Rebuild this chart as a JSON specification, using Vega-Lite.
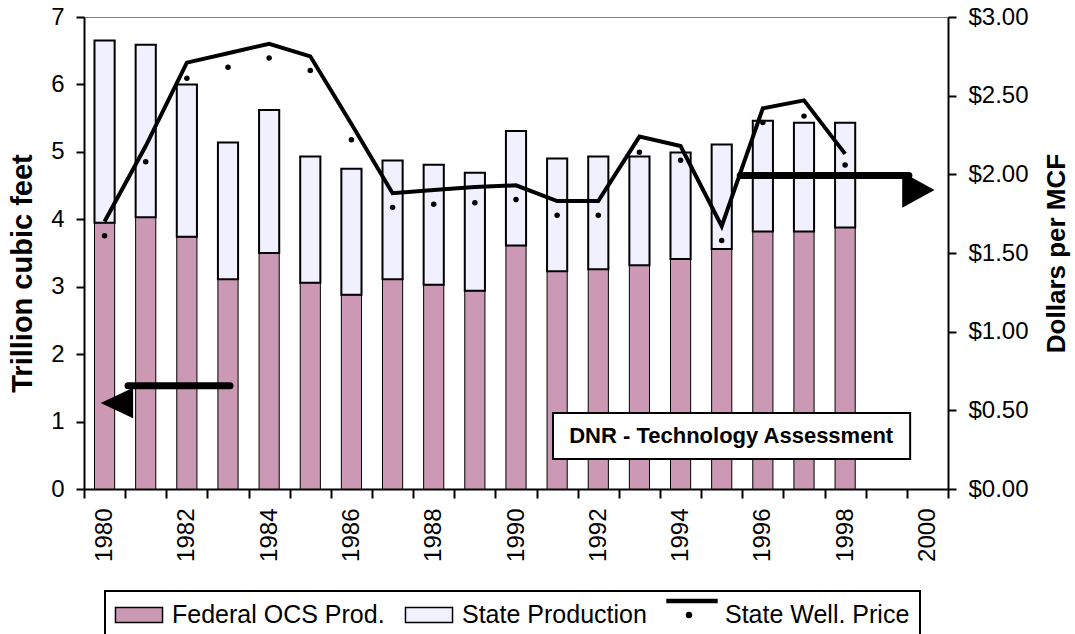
{
  "$schema": "https://vega.github.io/schema/vega-lite/v6.json",
  "autosize": {"type": "none"},
  "padding": {"left": 84, "top": 17, "right": 127, "bottom": 145},
  "width": 864,
  "height": 472,
  "background": "white",
  "config": {
    "font": "Liberation Sans",
    "view": {"stroke": "#808080", "strokeWidth": 1},
    "axis": {
      "domainColor": "black", "domainWidth": 2,
      "tickColor": "black", "tickWidth": 2, "tickSize": 8,
      "labelFont": "Liberation Sans", "labelFontSize": 24, "labelColor": "black",
      "titleFont": "Liberation Sans", "titleFontWeight": "bold", "titleColor": "black",
      "grid": false
    }
  },
  "datasets": {
    "prod": [
      {"year": 1980, "series": "Federal OCS Prod.", "value": 3.95}, {"year": 1980, "series": "State Production", "value": 2.70},
      {"year": 1981, "series": "Federal OCS Prod.", "value": 4.03}, {"year": 1981, "series": "State Production", "value": 2.56},
      {"year": 1982, "series": "Federal OCS Prod.", "value": 3.74}, {"year": 1982, "series": "State Production", "value": 2.26},
      {"year": 1983, "series": "Federal OCS Prod.", "value": 3.11}, {"year": 1983, "series": "State Production", "value": 2.03},
      {"year": 1984, "series": "Federal OCS Prod.", "value": 3.50}, {"year": 1984, "series": "State Production", "value": 2.12},
      {"year": 1985, "series": "Federal OCS Prod.", "value": 3.06}, {"year": 1985, "series": "State Production", "value": 1.87},
      {"year": 1986, "series": "Federal OCS Prod.", "value": 2.88}, {"year": 1986, "series": "State Production", "value": 1.87},
      {"year": 1987, "series": "Federal OCS Prod.", "value": 3.11}, {"year": 1987, "series": "State Production", "value": 1.76},
      {"year": 1988, "series": "Federal OCS Prod.", "value": 3.03}, {"year": 1988, "series": "State Production", "value": 1.78},
      {"year": 1989, "series": "Federal OCS Prod.", "value": 2.94}, {"year": 1989, "series": "State Production", "value": 1.75},
      {"year": 1990, "series": "Federal OCS Prod.", "value": 3.61}, {"year": 1990, "series": "State Production", "value": 1.70},
      {"year": 1991, "series": "Federal OCS Prod.", "value": 3.23}, {"year": 1991, "series": "State Production", "value": 1.67},
      {"year": 1992, "series": "Federal OCS Prod.", "value": 3.26}, {"year": 1992, "series": "State Production", "value": 1.67},
      {"year": 1993, "series": "Federal OCS Prod.", "value": 3.32}, {"year": 1993, "series": "State Production", "value": 1.61},
      {"year": 1994, "series": "Federal OCS Prod.", "value": 3.41}, {"year": 1994, "series": "State Production", "value": 1.58},
      {"year": 1995, "series": "Federal OCS Prod.", "value": 3.56}, {"year": 1995, "series": "State Production", "value": 1.55},
      {"year": 1996, "series": "Federal OCS Prod.", "value": 3.82}, {"year": 1996, "series": "State Production", "value": 1.64},
      {"year": 1997, "series": "Federal OCS Prod.", "value": 3.82}, {"year": 1997, "series": "State Production", "value": 1.61},
      {"year": 1998, "series": "Federal OCS Prod.", "value": 3.88}, {"year": 1998, "series": "State Production", "value": 1.55}
    ],
    "price": [
      {"year": 1980, "line": 1.70, "dot": 1.61},
      {"year": 1981, "line": 2.18, "dot": 2.08},
      {"year": 1982, "line": 2.71, "dot": 2.61},
      {"year": 1983, "line": 2.77, "dot": 2.68},
      {"year": 1984, "line": 2.83, "dot": 2.74},
      {"year": 1985, "line": 2.75, "dot": 2.66},
      {"year": 1986, "line": 2.32, "dot": 2.22},
      {"year": 1987, "line": 1.88, "dot": 1.79},
      {"year": 1988, "line": 1.90, "dot": 1.81},
      {"year": 1989, "line": 1.92, "dot": 1.82},
      {"year": 1990, "line": 1.93, "dot": 1.84},
      {"year": 1991, "line": 1.83, "dot": 1.74},
      {"year": 1992, "line": 1.83, "dot": 1.74},
      {"year": 1993, "line": 2.24, "dot": 2.14},
      {"year": 1994, "line": 2.18, "dot": 2.09},
      {"year": 1995, "line": 1.67, "dot": 1.58},
      {"year": 1996, "line": 2.42, "dot": 2.33},
      {"year": 1997, "line": 2.47, "dot": 2.37},
      {"year": 1998, "line": 2.13, "dot": 2.06}
    ],
    "arrows": [
      {"arrow": "left", "x": 1980.57, "x2": 1983.05, "y": 1.53},
      {"arrow": "right", "x": 1995.45, "x2": 1999.55, "y": 4.65}
    ],
    "heads": [
      {"dir": "left", "x": 1980.30, "y": 1.275},
      {"dir": "right", "x": 1999.78, "y": 4.434}
    ],
    "note": [
      {"label": "DNR - Technology Assessment", "x": 1990.90, "x2": 1999.58, "y": 1.127, "y2": 0.445, "cx": 1995.23, "cy": 0.786}
    ]
  },
  "layer": [
    {
      "layer": [
        {
          "data": {"name": "prod"},
          "mark": {"type": "bar", "width": {"band": 0.49}, "stroke": "black"},
          "encoding": {
            "x": {
              "field": "year", "type": "ordinal",
              "scale": {"domain": [1980,1981,1982,1983,1984,1985,1986,1987,1988,1989,1990,1991,1992,1993,1994,1995,1996,1997,1998,1999,2000], "paddingInner": 0, "paddingOuter": 0},
              "axis": {
                "orient": "bottom", "title": null, "tickBand": "extent", "tickSize": 9,
                "labelAngle": 270, "labelAlign": "right", "labelBaseline": "middle",
                "labelPadding": 10, "labelOverlap": false,
                "labelExpr": "datum.value % 2 === 0 ? datum.label : ''"
              }
            },
            "y": {
              "field": "value", "type": "quantitative", "stack": "zero",
              "scale": {"domain": [0, 7], "nice": false},
              "axis": {
                "orient": "left", "values": [0,1,2,3,4,5,6,7], "labelPadding": 12,
                "title": "Trillion cubic feet", "titleFontSize": 29, "titleAngle": 270,
                "titleX": -62, "titleY": 256, "titleAlign": "center", "titleBaseline": "middle"
              }
            },
            "fill": {
              "field": "series", "type": "nominal",
              "scale": {"domain": ["Federal OCS Prod.", "State Production", "State Well. Price"], "range": ["#CC99B4", "#F0F0FF", "black"]},
              "legend": {
                "orient": "none", "legendX": 21, "legendY": 574, "direction": "horizontal", "columns": 3,
                "title": null, "labelFontSize": 25, "labelFont": "Liberation Sans", "labelColor": "black",
                "labelLimit": 400, "labelOffset": 19, "symbolOffset": 10, "columnPadding": 17, "padding": 10,
                "symbolSize": 676, "strokeColor": "black",
                "symbolStrokeColor": "black", "symbolStrokeWidth": 1.5,
                "encode": {
                  "symbols": {"update": {
                    "shape": {"signal": "datum.value === 'State Well. Price' ? 'M-1.92,-1.19H1.92V-0.96H-1.92Z M-0.04,0A0.19,0.19 0 1,1 -0.42,0A0.19,0.19 0 1,1 -0.04,0Z' : 'M-1.81,-0.58H1.81V0.58H-1.81Z'"},
                    "stroke": {"value": "black"},
                    "strokeWidth": {"value": 1.5}
                  }},
                  "legend": {"update": {"strokeWidth": {"value": 2}}}
                }
              }
            },
            "order": {"field": "series", "sort": "ascending"},
            "strokeWidth": {"condition": {"test": "datum.series === 'State Production'", "value": 2}, "value": 1}
          }
        },
        {
          "layer": [
            {
              "data": {"name": "price"},
              "mark": {"type": "line", "color": "black", "strokeWidth": 4},
              "encoding": {
                "x": {"field": "year", "type": "ordinal"},
                "y": {
                  "field": "line", "type": "quantitative", "title": "Dollars per MCF",
                  "scale": {"domain": [0, 3], "nice": false},
                  "axis": {
                    "orient": "right", "values": [0,0.5,1,1.5,2,2.5,3], "format": "$.2f", "labelPadding": 12,
                    "title": "Dollars per MCF", "titleFontSize": 26, "titleAngle": 270,
                    "titleX": 108, "titleY": 236, "titleAlign": "center", "titleBaseline": "middle"
                  }
                }
              }
            },
            {
              "data": {"name": "price"},
              "mark": {"type": "point", "filled": true, "color": "black", "size": 30, "opacity": 1},
              "encoding": {
                "x": {"field": "year", "type": "ordinal"},
                "y": {"field": "dot", "type": "quantitative", "title": "Dollars per MCF"}
              }
            }
          ]
        }
      ],
      "resolve": {"scale": {"y": "independent"}}
    },
    {
      "layer": [
        {
          "data": {"name": "arrows"},
          "mark": {"type": "rule", "color": "black", "strokeWidth": 7, "strokeCap": "round"},
          "encoding": {
            "x": {"field": "x", "type": "quantitative", "scale": {"domain": [1979.5, 2000.5], "nice": false, "zero": false}, "axis": null},
            "x2": {"field": "x2"},
            "y": {"field": "y", "type": "quantitative", "scale": {"domain": [0, 7], "nice": false}, "axis": null}
          }
        },
        {
          "data": {"name": "heads"},
          "mark": {"type": "point", "filled": true, "color": "black", "size": 1050, "opacity": 1, "strokeWidth": 0},
          "encoding": {
            "x": {"field": "x", "type": "quantitative"},
            "y": {"field": "y", "type": "quantitative"},
            "shape": {"field": "dir", "type": "nominal", "scale": {"domain": ["left", "right"], "range": ["M1,-0.94L-1,0L1,0.94Z", "M-1,-1.1L1,0L-1,1.1Z"]}, "legend": null}
          }
        },
        {
          "data": {"name": "note"},
          "mark": {"type": "rect", "fill": "white", "stroke": "black", "strokeWidth": 2},
          "encoding": {
            "x": {"field": "x", "type": "quantitative"},
            "x2": {"field": "x2"},
            "y": {"field": "y", "type": "quantitative"},
            "y2": {"field": "y2"}
          }
        },
        {
          "data": {"name": "note"},
          "mark": {"type": "text", "fontSize": 22, "fontWeight": "bold", "align": "center", "baseline": "middle", "color": "black"},
          "encoding": {
            "x": {"field": "cx", "type": "quantitative"},
            "y": {"field": "cy", "type": "quantitative"},
            "text": {"field": "label"}
          }
        }
      ]
    }
  ],
  "resolve": {"scale": {"x": "independent", "y": "independent"}}
}
